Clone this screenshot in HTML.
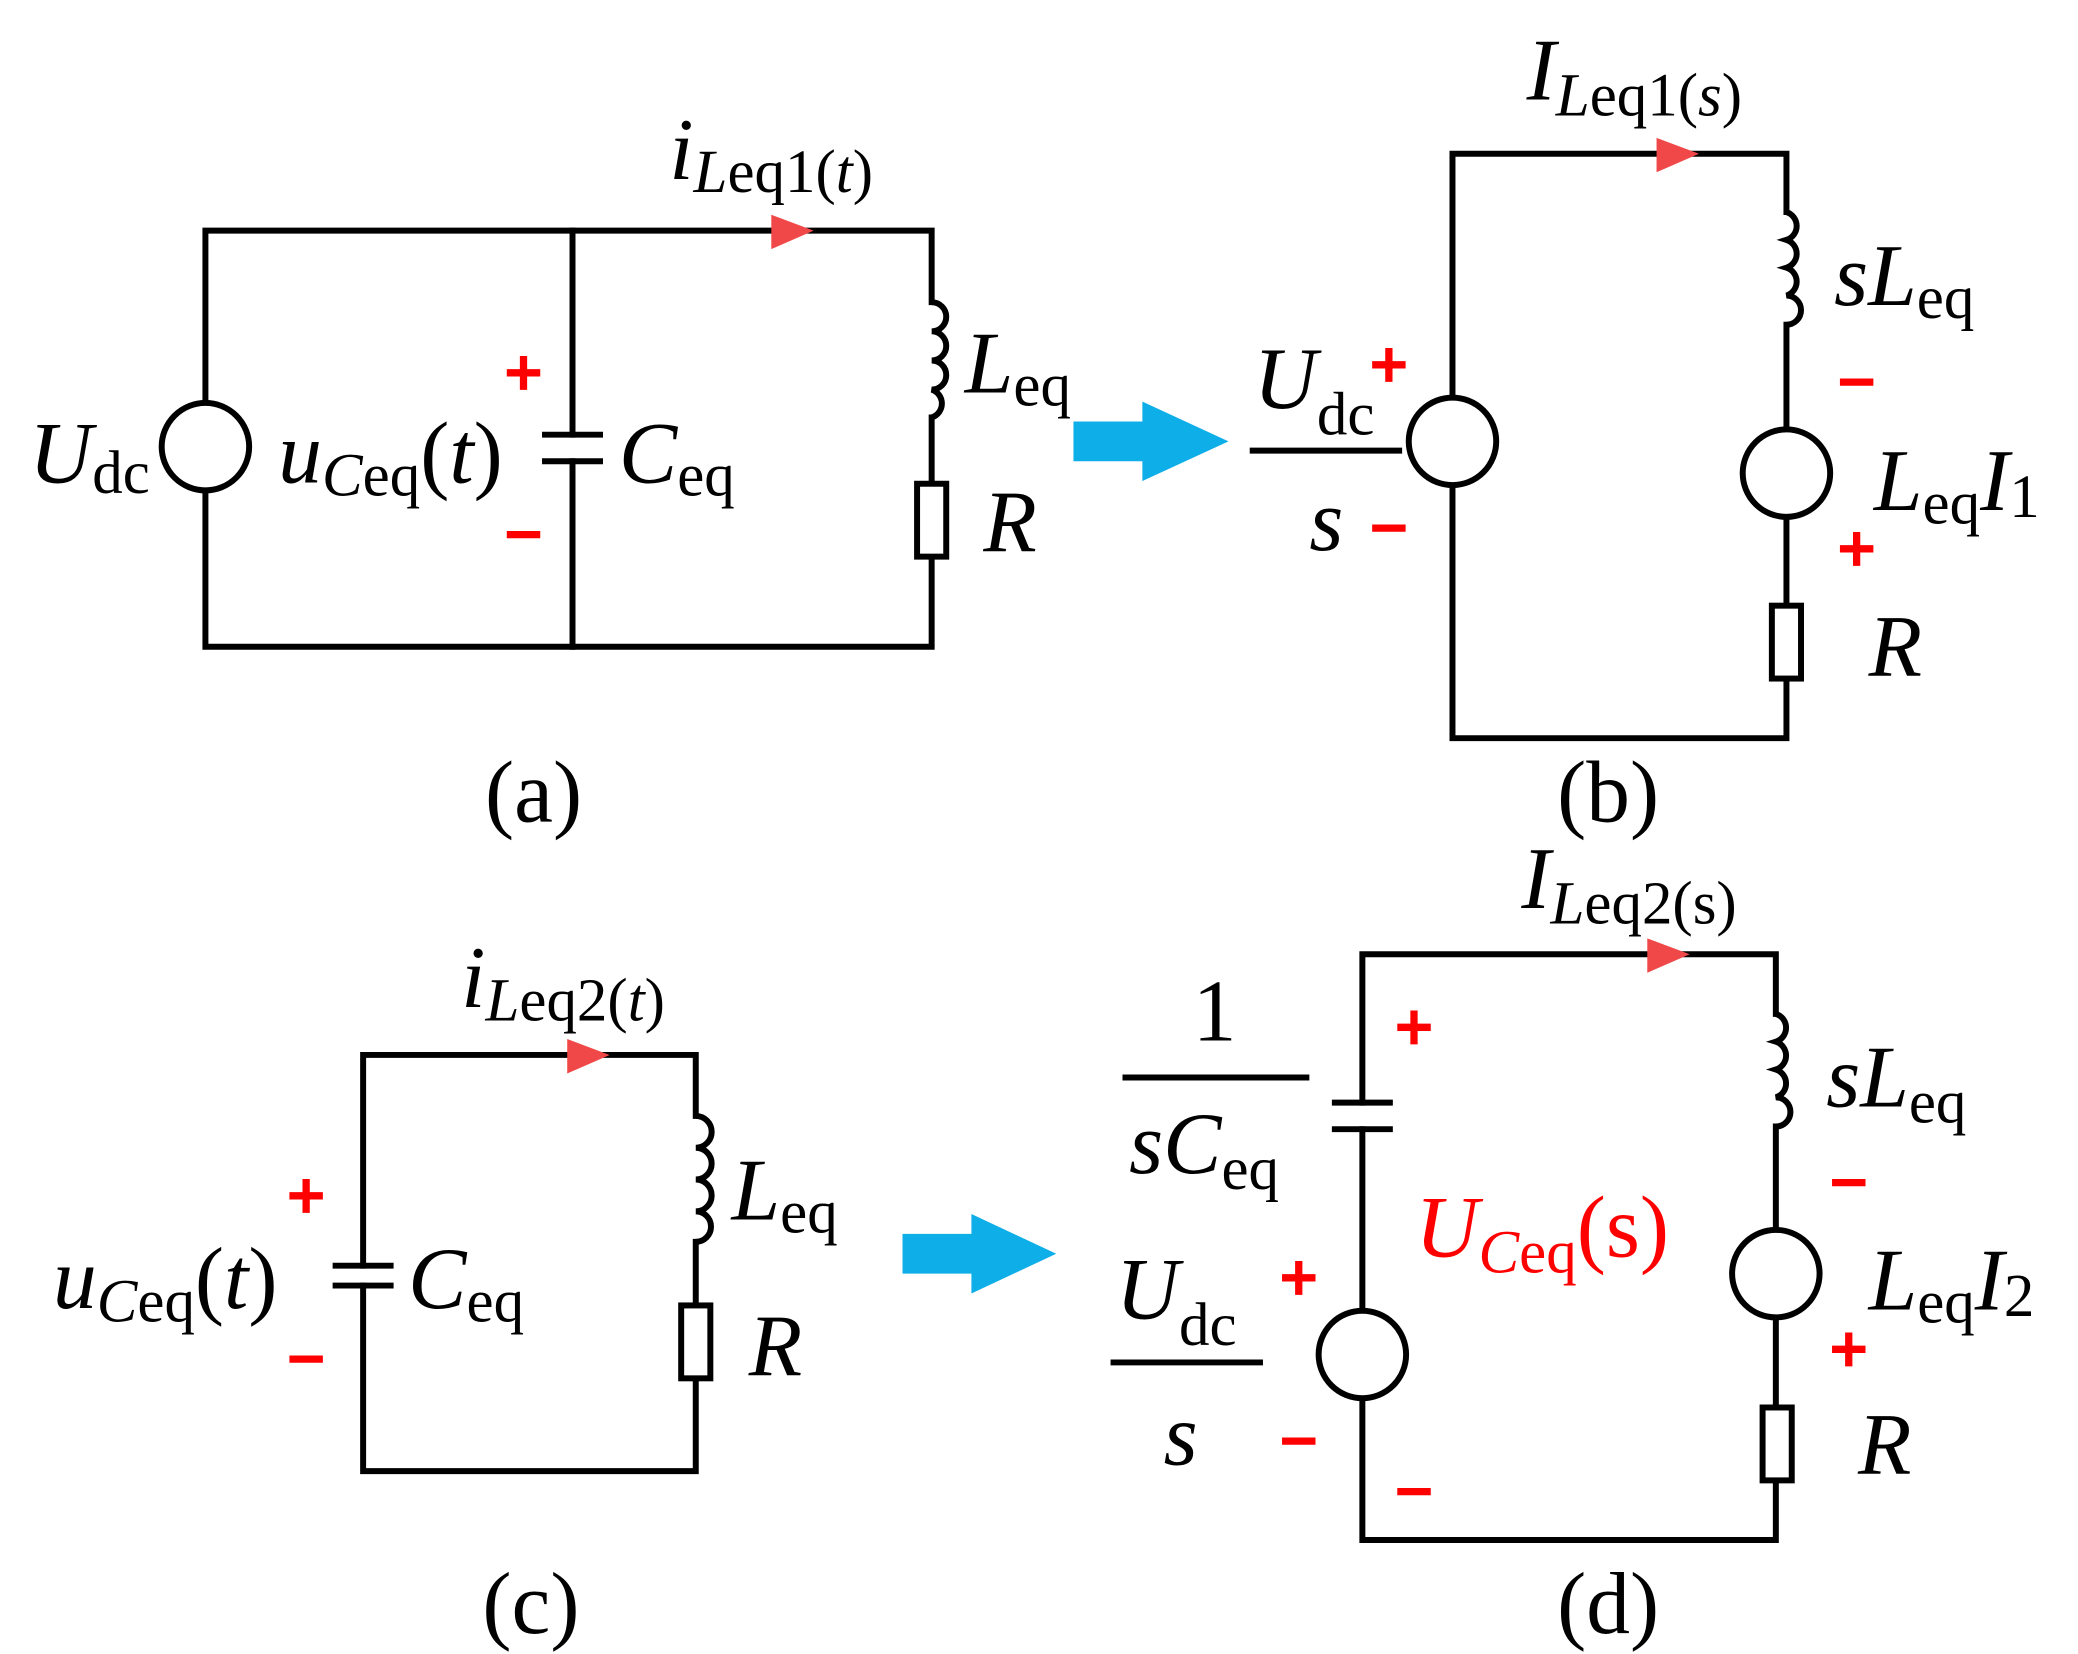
<!DOCTYPE html>
<html><head><meta charset="utf-8"><style>
html,body{margin:0;padding:0;background:#fff;}
svg{display:block;}
text{font-family:"Liberation Serif",serif;}
.i{font-style:italic;}
</style></head><body>
<svg width="2078" height="1654" viewBox="0 0 1568 1248" preserveAspectRatio="none" xmlns="http://www.w3.org/2000/svg">
<g fill="none" stroke="#000" stroke-width="4.5" stroke-linecap="square">
<!-- (a) -->
<path d="M155 174H703V228M703 315V365M703 420V488H155V174"/>
<path d="M432 174V328M432 348V488"/>
<path d="M409 328H455M409 348H455" stroke-linecap="butt"/>
<circle cx="155" cy="337" r="33" fill="#fff"/>
<path d="M703 228 a11 11 0 0 1 0 22 a11 11 0 0 1 0 22 a11 11 0 0 1 0 22 a11 11 0 0 1 0 21" stroke-linecap="butt"/>
<rect x="692" y="365" width="22" height="55" fill="#fff"/>
<!-- (b) -->
<path d="M1096 116H1348V160M1348 245V457M1348 512V557H1096V116"/>
<circle cx="1096" cy="333" r="33" fill="#fff"/>
<circle cx="1348" cy="357" r="33" fill="#fff"/>
<path d="M1348 160 a11 11 0 0 1 0 21 a11 11 0 0 1 0 21 a11 11 0 0 1 0 21 a11 11 0 0 1 0 22" stroke-linecap="butt"/>
<rect x="1337" y="457" width="22" height="55" fill="#fff"/>
<path d="M943 340H1058" stroke-linecap="butt"/>
<!-- (c) -->
<path d="M274 796H525V842M525 937V985M525 1040V1110H274V970M274 955V796"/>
<path d="M251 955H297M251 970H297" stroke-linecap="butt"/>
<path d="M525 842 a11 11 0 0 1 0 24 a11 11 0 0 1 0 24 a11 11 0 0 1 0 24 a11 11 0 0 1 0 23" stroke-linecap="butt"/>
<rect x="514" y="985" width="22" height="55" fill="#fff"/>
<!-- (d) -->
<path d="M1028 832V720H1340V765M1340 850V1062M1340 1117V1162H1028V852"/>
<path d="M1005 832H1051M1005 852H1051" stroke-linecap="butt"/>
<circle cx="1028" cy="1022" r="33" fill="#fff"/>
<circle cx="1340" cy="961" r="33" fill="#fff"/>
<path d="M1340 765 a11 11 0 0 1 0 21 a11 11 0 0 1 0 21 a11 11 0 0 1 0 21 a11 11 0 0 1 0 22" stroke-linecap="butt"/>
<rect x="1330" y="1062" width="22" height="55" fill="#fff"/>
<path d="M847 813H988M838 1028H953" stroke-linecap="butt"/>
</g>
<g fill="#f04848">
<path d="M582 162L614 174L582 188Z"/>
<path d="M1250 104L1282 116L1250 130Z"/>
<path d="M428 784L460 796L428 810Z"/>
<path d="M1243 708L1275 720L1243 734Z"/>
</g>
<g fill="#0eaee8">
<path d="M810 318H862V303L927 333L862 363V348H810Z"/>
<path d="M681 931H733V916L797 946L733 976V961H681Z"/>
</g>
<g fill="#f00" stroke="#f00" stroke-width="2" font-family="Liberation Sans,sans-serif" font-weight="bold" font-size="50" text-anchor="middle">
<text x="395" y="298">+</text><text x="395" y="420">−</text>
<text x="1048" y="292">+</text><text x="1048" y="415">−</text>
<text x="1401" y="305">−</text><text x="1401" y="431">+</text>
<text x="231" y="919">+</text><text x="231" y="1042">−</text>
<text x="1067" y="792">+</text><text x="980" y="981">+</text><text x="980" y="1104">−</text>
<text x="1067" y="1142">−</text>
<text x="1395" y="909">−</text><text x="1395" y="1035">+</text>
</g>
<g font-size="66" fill="#000">
<text x="22" y="364"><tspan class="i">U</tspan><tspan font-size="46" dy="8">dc</tspan></text>
<text x="210" y="364"><tspan class="i">u</tspan><tspan class="i" font-size="46" dy="10">C</tspan><tspan font-size="46">eq</tspan><tspan dy="-10">(</tspan><tspan class="i">t</tspan>)</text>
<text x="467" y="364"><tspan class="i">C</tspan><tspan font-size="46" dy="10">eq</tspan></text>
<text x="728" y="296"><tspan class="i">L</tspan><tspan font-size="46" dy="10">eq</tspan></text>
<text x="742" y="416" class="i">R</text>
<text x="505" y="135"><tspan class="i">i</tspan><tspan class="i" font-size="46" dy="10">L</tspan><tspan font-size="46">eq1(<tspan class="i">t</tspan>)</tspan></text>
<text x="366" y="620">(a)</text>
<text x="1152" y="75"><tspan class="i">I</tspan><tspan class="i" font-size="46" dy="12">L</tspan><tspan font-size="46">eq1(<tspan class="i">s</tspan>)</tspan></text>
<text x="946" y="308"><tspan class="i">U</tspan><tspan font-size="46" dy="20">dc</tspan></text>
<text x="988" y="415" class="i">s</text>
<text x="1384" y="230"><tspan class="i">sL</tspan><tspan font-size="46" dy="10">eq</tspan></text>
<text x="1414" y="385"><tspan class="i">L</tspan><tspan font-size="46" dy="10">eq</tspan><tspan class="i" dy="-10">I</tspan><tspan font-size="46" dy="5">1</tspan></text>
<text x="1410" y="510" class="i">R</text>
<text x="1175" y="620">(b)</text>
<text x="348" y="760"><tspan class="i">i</tspan><tspan class="i" font-size="46" dy="10">L</tspan><tspan font-size="46">eq2(<tspan class="i">t</tspan>)</tspan></text>
<text x="40" y="987"><tspan class="i">u</tspan><tspan class="i" font-size="46" dy="10">C</tspan><tspan font-size="46">eq</tspan><tspan dy="-10">(</tspan><tspan class="i">t</tspan>)</text>
<text x="308" y="987"><tspan class="i">C</tspan><tspan font-size="46" dy="10">eq</tspan></text>
<text x="552" y="920"><tspan class="i">L</tspan><tspan font-size="46" dy="10">eq</tspan></text>
<text x="565" y="1038" class="i">R</text>
<text x="364" y="1232">(c)</text>
<text x="1148" y="685"><tspan class="i">I</tspan><tspan class="i" font-size="46" dy="12">L</tspan><tspan font-size="46">eq2(s)</tspan></text>
<text x="900" y="785">1</text>
<text x="852" y="885"><tspan class="i">sC</tspan><tspan font-size="46" dy="12">eq</tspan></text>
<text x="842" y="995"><tspan class="i">U</tspan><tspan font-size="46" dy="20">dc</tspan></text>
<text x="878" y="1105" class="i">s</text>
<text x="1068" y="948" fill="#f00"><tspan class="i">U</tspan><tspan class="i" font-size="46" dy="12">C</tspan><tspan font-size="46">eq</tspan><tspan dy="-12">(s)</tspan></text>
<text x="1378" y="835"><tspan class="i">sL</tspan><tspan font-size="46" dy="12">eq</tspan></text>
<text x="1410" y="988"><tspan class="i">L</tspan><tspan font-size="46" dy="10">eq</tspan><tspan class="i" dy="-10">I</tspan><tspan font-size="46" dy="5">2</tspan></text>
<text x="1402" y="1112" class="i">R</text>
<text x="1175" y="1232">(d)</text>
</g>
</svg>
</body></html>
